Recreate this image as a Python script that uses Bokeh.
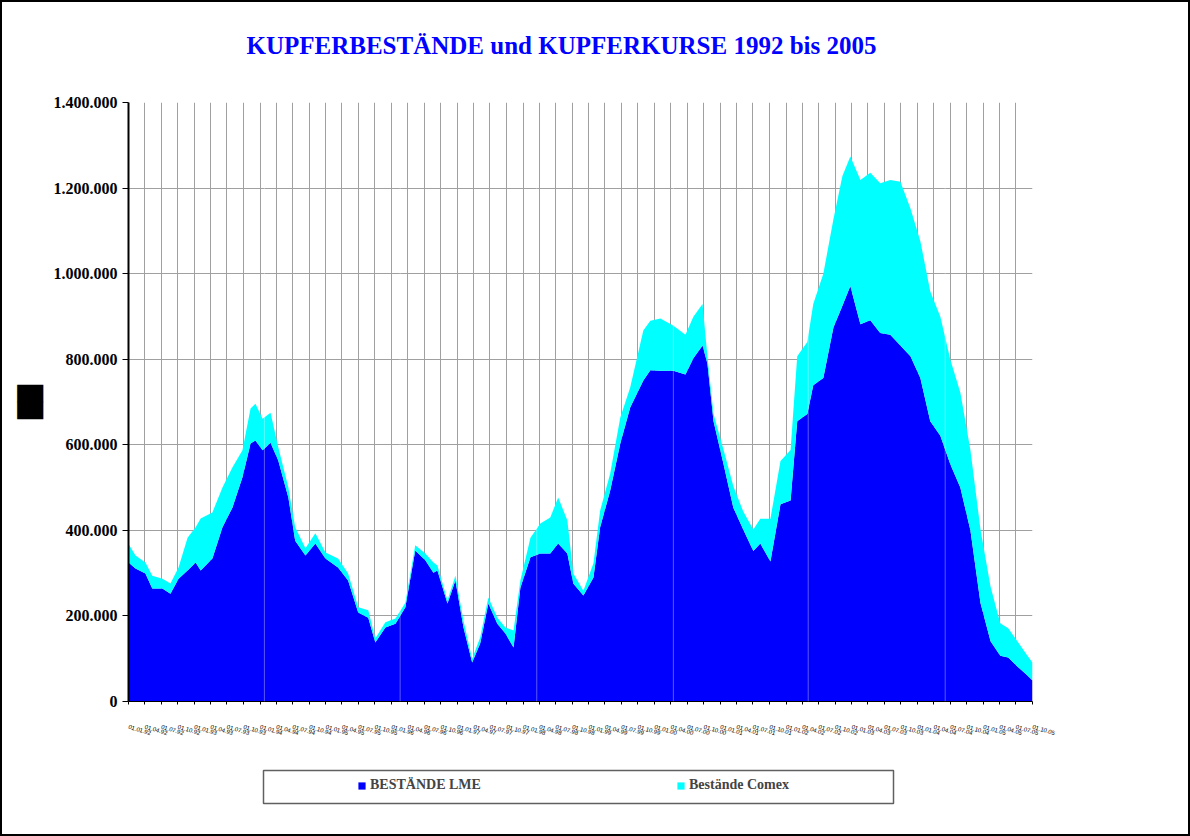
import pandas as pd
from bokeh.plotting import figure
from bokeh.layouts import column
from bokeh.models import (ColumnDataSource, Legend, LegendItem, FixedTicker,
                          DatetimeTickFormatter, Range1d, Title, Span)
from bokeh.embed import file_html
from bokeh.resources import INLINE

# ---------------- data (tonnes) ----------------
DATES = [
    "1992-01-01", "1992-02-09", "1992-04-04", "1992-05-12", "1992-07-07", "1992-08-21",
    "1992-10-05", "1992-11-24", "1993-01-08", "1993-02-05", "1993-04-11", "1993-06-06",
    "1993-07-31", "1993-09-25", "1993-11-09", "1993-12-06", "1994-01-15", "1994-02-28",
    "1994-04-12", "1994-06-07", "1994-07-15", "1994-09-10", "1994-11-04", "1994-12-30",
    "1995-03-10", "1995-05-05", "1995-06-30", "1995-08-25", "1995-10-03", "1995-11-28",
    "1996-01-23", "1996-03-18", "1996-05-12", "1996-07-07", "1996-08-21", "1996-09-12",
    "1996-11-07", "1996-12-21", "1997-02-04", "1997-03-24", "1997-05-08", "1997-06-22",
    "1997-08-11", "1997-09-25", "1997-11-09", "1997-12-17", "1998-02-11", "1998-04-07",
    "1998-06-01", "1998-07-15", "1998-09-04", "1998-10-07", "1998-12-02", "1999-01-27",
    "1999-03-05", "1999-04-30", "1999-06-25", "1999-08-19", "1999-10-31", "1999-12-09",
    "2000-02-03", "2000-04-15", "2000-06-21", "2000-08-04", "2000-09-24", "2000-10-21",
    "2000-11-24", "2001-01-19", "2001-03-14", "2001-05-08", "2001-07-03", "2001-08-11",
    "2001-10-06", "2001-12-01", "2002-01-26", "2002-03-04", "2002-04-29", "2002-06-01",
    "2002-07-27", "2002-09-21", "2002-11-10", "2002-12-24", "2003-02-18", "2003-04-14",
    "2003-06-08", "2003-08-03", "2003-09-28", "2003-11-23", "2004-01-17", "2004-03-12",
    "2004-05-07", "2004-07-02", "2004-08-26", "2004-10-21", "2004-12-16", "2005-02-10",
    "2005-04-05", "2005-05-19", "2005-07-09", "2005-09-03", "2005-10-01",
]
LME = [
    325000, 311000, 299000, 264000, 264000, 252000,
    287000, 306000, 325000, 306000, 334000, 407000,
    453000, 524000, 603000, 610000, 587000, 605000,
    563000, 477000, 376000, 341000, 369000, 334000,
    313000, 283000, 208000, 196000, 138000, 173000,
    182000, 220000, 353000, 330000, 301000, 306000,
    229000, 283000, 173000, 91000, 136000, 229000,
    182000, 159000, 126000, 266000, 337000, 346000,
    346000, 369000, 346000, 276000, 248000, 290000,
    407000, 493000, 603000, 687000, 750000, 774000,
    773000, 773000, 764000, 802000, 832000, 790000,
    655000, 554000, 453000, 402000, 352000, 369000,
    327000, 461000, 470000, 655000, 672000, 739000,
    756000, 874000, 925000, 971000, 882000, 891000,
    861000, 857000, 832000, 807000, 756000, 655000,
    621000, 554000, 500000, 400000, 230000, 141000,
    107000, 103000, 82000, 61000, 49000,
]
COMEX = [
    43000, 30000, 26000, 30000, 23000, 24000,
    26000, 77000, 82000, 122000, 108000, 93000,
    94000, 63000, 82000, 86000, 74000, 70000,
    31000, 23000, 31000, 17000, 24000, 14000,
    21000, 16000, 12000, 17000, 9000, 12000,
    12000, 11000, 12000, 16000, 24000, 12000,
    7000, 11000, 16000, 9000, 14000, 14000,
    14000, 14000, 40000, 17000, 46000, 70000,
    84000, 108000, 77000, 23000, 11000, 33000,
    39000, 40000, 61000, 47000, 117000, 116000,
    122000, 105000, 93000, 97000, 97000, 17000,
    17000, 34000, 50000, 42000, 50000, 58000,
    100000, 101000, 118000, 152000, 168000, 190000,
    244000, 253000, 303000, 303000, 337000, 345000,
    350000, 362000, 383000, 345000, 320000, 303000,
    278000, 244000, 222000, 188000, 172000, 127000,
    76000, 68000, 59000, 46000, 42000,
]
# faint vertical seams visible inside the filled areas
SEAM_DATES = ["1994-01-25", "1996-02-18", "1998-03-18", "2000-04-15", "2002-05-04", "2004-06-03"]

SERIES = ["BESTÄNDE LME", "Bestände Comex"]
COLORS = ["#0000FF", "#00FFFF"]
TITLE = "KUPFERBESTÄNDE und KUPFERKURSE 1992  bis  2005"
Y_TITLE = "██"

Y_TICKS = [0, 200000, 400000, 600000, 800000, 1000000, 1200000, 1400000]
Y_LABELS = ["0", "200.000", "400.000", "600.000", "800.000", "1.000.000", "1.200.000", "1.400.000"]
X_TICK_DATES = pd.date_range("1992-01-01", "2005-10-01", freq="QS")

# ---------------- chart ----------------
W = 1186            # + 2px CSS border on each side = 1190
H_CHART, H_LEG = 760, 72   # total 832 + borders = 836
B_LEFT, B_RIGHT = 126, 156
src = ColumnDataSource(dict(date=pd.to_datetime(DATES), lme=LME, comex=COMEX))

p = figure(width=W, height=H_CHART, x_axis_type="datetime", output_backend="svg",
           toolbar_location=None, title=None,
           x_range=Range1d(pd.Timestamp("1992-01-01"), pd.Timestamp("2005-10-01")),
           y_range=Range1d(0, 1400000),
           min_border_left=B_LEFT, min_border_right=B_RIGHT, min_border_top=100,
           min_border_bottom=H_CHART - 699)
p.background_fill_color = "white"
p.border_fill_color = "white"
p.outline_line_color = None

rs = p.varea_stack(["lme", "comex"], x="date", color=COLORS, source=src)
for d in SEAM_DATES:
    p.add_layout(Span(location=pd.Timestamp(d).timestamp() * 1000, dimension="height",
                      line_color="white", line_alpha=0.35, line_width=1))

# title: a spacer title next to the frame, the real title outside it
p.add_layout(Title(text=" ", text_font_size="36px", standoff=0), "above")
p.add_layout(Title(text=TITLE, text_font="Liberation Serif", text_font_style="bold",
                   text_font_size="25px", text_color="#0000FF", align="left",
                   offset=118, standoff=2), "above")

# y axis
p.yaxis.ticker = FixedTicker(ticks=Y_TICKS)
p.yaxis.major_label_overrides = dict(zip(Y_TICKS, Y_LABELS))
p.yaxis.major_label_text_font = "Liberation Serif"
p.yaxis.major_label_text_font_style = "bold"
p.yaxis.major_label_text_font_size = "16px"
p.yaxis.major_label_text_color = "black"
p.yaxis.axis_line_color = "black"
p.yaxis.axis_line_width = 2
p.yaxis.major_tick_out = 6
p.yaxis.major_tick_in = 0
p.yaxis.minor_tick_line_color = None
p.yaxis.major_label_standoff = 5
p.yaxis.axis_label = Y_TITLE
p.yaxis.axis_label_text_font = "DejaVu Sans"
p.yaxis.axis_label_text_font_style = "normal"
p.yaxis.axis_label_text_font_size = "22px"
p.yaxis.axis_label_text_color = "black"
p.yaxis.axis_label_standoff = 8

# x axis
p.xaxis.ticker = FixedTicker(ticks=[t.timestamp() * 1000 for t in X_TICK_DATES])
fmt = "%d.%m.%y"
p.xaxis.formatter = DatetimeTickFormatter(days=fmt, months=fmt, years=fmt, hours=fmt)
p.xaxis.major_label_orientation = -0.3
p.xaxis.major_label_text_font = "Liberation Sans"
p.xaxis.major_label_text_font_size = "6px"
p.xaxis.major_label_text_color = "black"
p.xaxis.major_label_standoff = 22
p.xaxis.axis_line_color = "black"
p.xaxis.major_tick_out = 3
p.xaxis.major_tick_in = 0
p.xaxis.minor_tick_line_color = None

# grids
p.xgrid.grid_line_color = "#a0a0a0"
p.ygrid.grid_line_color = "#a0a0a0"
p.grid.grid_line_width = 1

# ---------------- legend strip (its frame is aligned with the chart frame) ----------------
FRAME_L, FRAME_R = B_LEFT + 2, W - B_RIGHT + 2   # page x of the frame edges
q = figure(width=W, height=H_LEG, output_backend="svg", toolbar_location=None,
           x_range=Range1d(FRAME_L, FRAME_R), y_range=Range1d(H_LEG, 0),
           x_axis_location=None, y_axis_location=None,
           min_border_left=B_LEFT, min_border_right=B_RIGHT,
           min_border_top=0, min_border_bottom=0)
q.grid.visible = False
q.outline_line_color = None
q.background_fill_color = "white"
q.border_fill_color = "white"
# legend frame, in page pixels
q.quad(left=[263], right=[893], top=[8], bottom=[41], fill_color=None,
       line_color="#606060", line_width=1.5)
swatches = [q.varea(x=[FRAME_L], y1=[0], y2=[0], fill_color=c, fill_alpha=1) for c in COLORS]
legend = Legend(items=[LegendItem(label=SERIES[0], renderers=[swatches[0]]),
                       LegendItem(label=SERIES[1], renderers=[swatches[1]])],
                location=(357 - FRAME_L, 41), orientation="horizontal",
                glyph_width=9, glyph_height=9, label_height=13, label_standoff=4,
                label_width=194, spacing=112, padding=0, margin=0,
                border_line_color=None, background_fill_alpha=0,
                label_text_font="Liberation Serif", label_text_font_style="bold",
                label_text_font_size="14px")
q.add_layout(legend)

layout = column(p, q, spacing=0)
layout.styles = {"border": "2px solid black"}

open("out.html", "w").write(file_html(layout, INLINE))
